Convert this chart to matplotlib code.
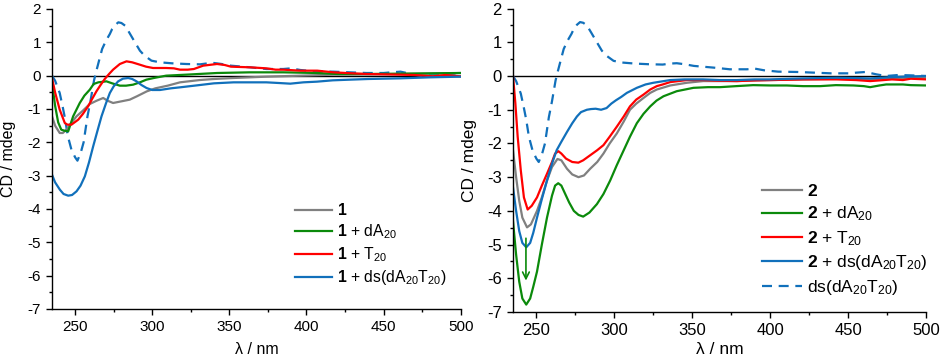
import matplotlib
matplotlib.use("Agg")
import matplotlib.pyplot as plt
from matplotlib.ticker import MultipleLocator

plt.rcParams['font.family'] = ['Liberation Sans', 'DejaVu Sans']
plt.rcParams['mathtext.fontset'] = 'custom'
plt.rcParams['mathtext.rm'] = 'Liberation Sans'
plt.rcParams['mathtext.bf'] = 'Liberation Sans:bold'
plt.rcParams['mathtext.it'] = 'Liberation Sans:italic'
plt.rcParams['axes.unicode_minus'] = False

# ---------------- data: left panel (compound 1) ----------------
wl_1 = [235, 237, 240, 242, 244.4, 247, 250.9, 255, 259.5, 264, 268.2, 271, 274.6, 280, 285.4,
        290, 296.5, 302, 310, 318, 331, 340, 352.7, 374, 396, 417.5, 440, 461, 480, 500]
cd_1 = [-1.22, -1.5, -1.72, -1.72, -1.62, -1.45, -1.22, -1.05, -0.85, -0.75, -0.67, -0.75, -0.82, -0.77, -0.72,
        -0.62, -0.47, -0.38, -0.3, -0.2, -0.13, -0.1, -0.07, -0.03, 0.0, 0.03, 0.04, 0.05, 0.06, 0.08]

wl_1dA = [235, 237, 239, 241, 243, 245.5, 248.7, 253, 256, 259.5, 262, 265, 270.3, 274, 279, 283,
          287.6, 292, 296.2, 301, 309, 322, 342, 363, 385, 407, 420, 439, 460, 480, 500]
cd_1dA = [-0.2, -0.9, -1.4, -1.62, -1.65, -1.67, -1.22, -0.82, -0.6, -0.42, -0.25, -0.2, -0.17, -0.23, -0.3, -0.3,
          -0.27, -0.2, -0.12, -0.07, 0.0, 0.03, 0.08, 0.1, 0.1, 0.08, 0.05, 0.05, 0.06, 0.07, 0.08]

wl_1T = [235, 237, 240, 243.3, 245, 247.6, 252, 255, 258.4, 261, 263.8, 266.5, 269.2, 272, 274.6, 279,
         283.3, 287, 291.9, 296, 300.5, 309, 314, 318, 323, 327, 333, 342, 347, 351, 363.5, 374, 380,
         385, 396, 407, 417.5, 430, 439, 461, 470, 482, 490, 500]
cd_1T = [-0.07, -0.5, -1.02, -1.42, -1.47, -1.47, -1.32, -1.15, -0.92, -0.7, -0.47, -0.28, -0.1, 0.05, 0.18, 0.35,
         0.43, 0.4, 0.33, 0.27, 0.23, 0.23, 0.22, 0.18, 0.18, 0.2, 0.3, 0.35, 0.32, 0.27, 0.25, 0.22, 0.18,
         0.18, 0.15, 0.15, 0.1, 0.07, 0.05, 0.03, 0.02, -0.02, 0.02, -0.02]

wl_1ds = [235, 237, 240.1, 242.5, 245.5, 248, 250.9, 253.5, 256.3, 259, 261.7, 264.5, 267.1, 270, 272.5,
          275, 277.9, 281, 284.4, 287, 289.8, 293, 296.3, 300, 305, 312, 318, 331, 340, 352.7, 363, 374,
          382, 389.5, 398, 406.7, 417, 428, 440, 461, 480, 500]
cd_1ds = [-2.97, -3.2, -3.42, -3.55, -3.6, -3.58, -3.47, -3.3, -3.02, -2.6, -2.12, -1.65, -1.22, -0.83, -0.52,
          -0.32, -0.17, -0.09, -0.07, -0.1, -0.17, -0.28, -0.37, -0.43, -0.43, -0.38, -0.35, -0.28, -0.23, -0.2, -0.2, -0.2,
          -0.22, -0.24, -0.2, -0.18, -0.14, -0.12, -0.1, -0.08, -0.05, -0.03]

# ---------------- data: free duplex ds(dA20T20) ----------------
wl_ds = [235, 237, 240, 242, 243.5, 245.2, 247.6, 250, 251.5, 253.7, 255.5, 258, 260, 262.3, 263.8, 265.5,
         267.5, 270, 272.5, 274, 276, 278, 280, 282.4, 285, 288.8, 292, 295, 299.5, 305, 313, 322, 331,
         336, 340, 345, 351, 363.5, 374, 385, 390, 396, 405, 417.5, 428, 439, 450, 455, 461, 468, 474,
         482, 490, 500]
cd_ds = [0.0, -0.15, -0.52, -0.95, -1.3, -1.8, -2.22, -2.45, -2.55, -2.3, -2.0, -1.22, -0.75, -0.13, 0.15, 0.45,
         0.8, 1.05, 1.25, 1.4, 1.52, 1.6, 1.58, 1.5, 1.3, 1.0, 0.75, 0.6, 0.45, 0.4, 0.37, 0.35, 0.34,
         0.37, 0.38, 0.35, 0.3, 0.25, 0.2, 0.2, 0.22, 0.17, 0.13, 0.12, 0.1, 0.08, 0.08, 0.1, 0.12, 0.05, 0.0,
         0.03, 0.02, 0.0]

# ---------------- data: right panel (compound 2) ----------------
wl_2 = [235, 237, 239, 241, 244, 246.5, 250.4, 253.5, 256.8, 260, 263.5, 266, 269.6, 273, 277, 280.5,
        284.5, 289, 293, 297, 301.6, 306, 310, 314, 318.7, 323, 327.2, 335.8, 346.5, 357, 368, 378.5,
        390, 400, 421, 442.5, 455, 464, 475, 490, 500]
cd_2 = [-2.2, -3.0, -3.7, -4.2, -4.49, -4.4, -4.0, -3.6, -3.1, -2.7, -2.46, -2.5, -2.75, -2.92, -3.0, -2.95,
        -2.75, -2.55, -2.3, -2.0, -1.7, -1.35, -1.0, -0.82, -0.65, -0.5, -0.4, -0.28, -0.2, -0.15, -0.15, -0.15,
        -0.13, -0.12, -0.1, -0.08, -0.08, -0.1, -0.07, -0.05, -0.05]

wl_2T = [235, 236.5, 238, 240, 242, 244.4, 247, 250.4, 253.5, 256.8, 260, 262, 264.1, 266, 269, 273,
         276.9, 280, 284.5, 289, 293, 297, 301.6, 306, 310, 314, 318.7, 323, 327.2, 331, 335.8, 346.5,
         357, 368, 378.5, 390, 400, 421, 442.5, 455, 464, 470, 478, 485, 490, 500]
cd_2T = [0.0, -0.8, -1.8, -2.8, -3.6, -3.96, -3.85, -3.6, -3.25, -2.9, -2.55, -2.3, -2.23, -2.3, -2.45, -2.55,
         -2.57, -2.5, -2.35, -2.2, -2.05, -1.8, -1.5, -1.2, -0.9, -0.7, -0.55, -0.4, -0.3, -0.25, -0.18, -0.12,
         -0.12, -0.14, -0.15, -0.13, -0.12, -0.1, -0.1, -0.12, -0.15, -0.13, -0.1, -0.12, -0.08, -0.1]

wl_2dA = [235, 237, 239, 241, 243.5, 246, 248, 250.4, 253.5, 256.8, 260, 262, 264, 266, 268, 271, 274,
          277, 280, 284, 288.8, 293, 297.3, 301.5, 306, 310, 314.4, 318.7, 323, 327, 331.5, 340, 350.7,
          360, 367.8, 378, 389, 400, 410.5, 421, 431.9, 442, 453.3, 460, 464, 470, 474.3, 485, 490, 500]
cd_2dA = [-4.3, -5.3, -6.1, -6.6, -6.78, -6.6, -6.25, -5.8, -5.0, -4.2, -3.55, -3.25, -3.18, -3.25, -3.45, -3.75, -4.0,
          -4.12, -4.17, -4.05, -3.8, -3.5, -3.1, -2.65, -2.2, -1.8, -1.4, -1.12, -0.9, -0.73, -0.6, -0.45, -0.35,
          -0.33, -0.33, -0.3, -0.27, -0.28, -0.28, -0.3, -0.3, -0.27, -0.28, -0.3, -0.33, -0.28, -0.25, -0.25, -0.27, -0.28]

wl_2ds = [235, 237, 239, 241, 243.5, 246, 248, 250.4, 253.5, 256.8, 260, 263, 266, 269.6, 273, 276,
          278.6, 282.4, 285, 288, 291.5, 295, 298, 301, 304.4, 308, 314.4, 320, 325, 335.8, 345, 357, 368,
          378.5, 390, 400, 421, 442.5, 455, 464, 475, 485, 500]
cd_2ds = [-3.3, -4.0, -4.6, -4.95, -5.08, -4.95, -4.65, -4.2, -3.65, -3.1, -2.6, -2.2, -1.95, -1.66, -1.4, -1.2,
          -1.07, -1.0, -0.98, -0.97, -1.0, -0.95, -0.82, -0.72, -0.62, -0.5, -0.35, -0.25, -0.2, -0.12, -0.1, -0.1, -0.12,
          -0.12, -0.1, -0.1, -0.07, -0.05, -0.06, -0.07, -0.04, -0.02, 0.0]

arrow_x = 243.3
arrow_y = [-4.73, -6.15]

# ---------------- style ----------------
C_GRAY = '#808080'
C_GREEN = '#0b8a0b'
C_RED = '#ff0000'
C_BLUE = '#1170bb'
LW = 1.6

fig = plt.figure(figsize=(9.41, 3.62), dpi=100)
axL = fig.add_axes([0.05526, 0.14641, 0.43433, 0.82873])
axR = fig.add_axes([0.54516, 0.13812, 0.43921, 0.83810])


def style_axes(ax, tick_fs, label_fs):
    ax.set_xlim(235, 500)
    ax.set_ylim(-7, 2)
    ax.spines['top'].set_visible(False)
    ax.spines['right'].set_visible(False)
    ax.spines['left'].set_linewidth(1.0)
    ax.spines['bottom'].set_linewidth(1.0)
    ax.xaxis.set_major_locator(MultipleLocator(50))
    ax.xaxis.set_minor_locator(MultipleLocator(25))
    ax.yaxis.set_major_locator(MultipleLocator(1))
    ax.yaxis.set_minor_locator(MultipleLocator(0.5))
    ax.tick_params(which='major', direction='out', length=4, width=1.0, labelsize=tick_fs, pad=4)
    ax.tick_params(which='minor', direction='out', length=2.3, width=1.0)
    ax.axhline(0, color='black', lw=1.0, zorder=1)
    ax.set_xlabel('λ / nm', fontsize=label_fs)
    ax.set_ylabel('CD / mdeg', fontsize=label_fs)


style_axes(axL, 11, 11.5)
style_axes(axR, 12, 12.5)

# left panel
axL.plot(wl_ds, cd_ds, color=C_BLUE, lw=LW, dashes=(4.5, 3))
axL.plot(wl_1, cd_1, color=C_GRAY, lw=LW, label=r'$\mathbf{1}$')
axL.plot(wl_1dA, cd_1dA, color=C_GREEN, lw=LW, label=r'$\mathbf{1}$ + dA$_{20}$')
axL.plot(wl_1T, cd_1T, color=C_RED, lw=LW, label=r'$\mathbf{1}$ + T$_{20}$')
axL.plot(wl_1ds, cd_1ds, color=C_BLUE, lw=LW, label=r'$\mathbf{1}$ + ds(dA$_{20}$T$_{20}$)')

# right panel
axR.plot(wl_ds, cd_ds, color=C_BLUE, lw=LW, dashes=(4.5, 3), label='ds(dA$_{20}$T$_{20}$)', zorder=2)
axR.plot(wl_2, cd_2, color=C_GRAY, lw=LW, label=r'$\mathbf{2}$')
axR.plot(wl_2dA, cd_2dA, color=C_GREEN, lw=LW, label=r'$\mathbf{2}$ + dA$_{20}$')
axR.plot(wl_2T, cd_2T, color=C_RED, lw=LW, label=r'$\mathbf{2}$ + T$_{20}$')
axR.plot(wl_2ds, cd_2ds, color=C_BLUE, lw=LW, label=r'$\mathbf{2}$ + ds(dA$_{20}$T$_{20}$)')
axR.annotate('', xy=(arrow_x, arrow_y[1]), xytext=(arrow_x, arrow_y[0]),
             arrowprops=dict(arrowstyle='->', color=C_GREEN, lw=1.2, mutation_scale=12))

# legends
hL, lL = axL.get_legend_handles_labels()
axL.legend(hL, lL, loc='upper left', bbox_to_anchor=(0.595, 0.355), frameon=False,
           fontsize=11.3, handlelength=2.35, handletextpad=0.32, labelspacing=0.26,
           borderpad=0, borderaxespad=0)

hR, lR = axR.get_legend_handles_labels()
order = [1, 2, 3, 4, 0]
axR.legend([hR[i] for i in order], [lR[i] for i in order], loc='upper left',
           bbox_to_anchor=(0.602, 0.425), frameon=False, fontsize=12.5,
           handlelength=2.3, handletextpad=0.29, labelspacing=0.32,
           borderpad=0, borderaxespad=0)

axL.yaxis.set_label_coords(-0.088, 0.5)
axR.yaxis.set_label_coords(-0.087, 0.5)
axL.xaxis.set_label_coords(0.5, -0.11)
axR.xaxis.set_label_coords(0.5, -0.10)

fig.savefig('out.png', dpi=100)
